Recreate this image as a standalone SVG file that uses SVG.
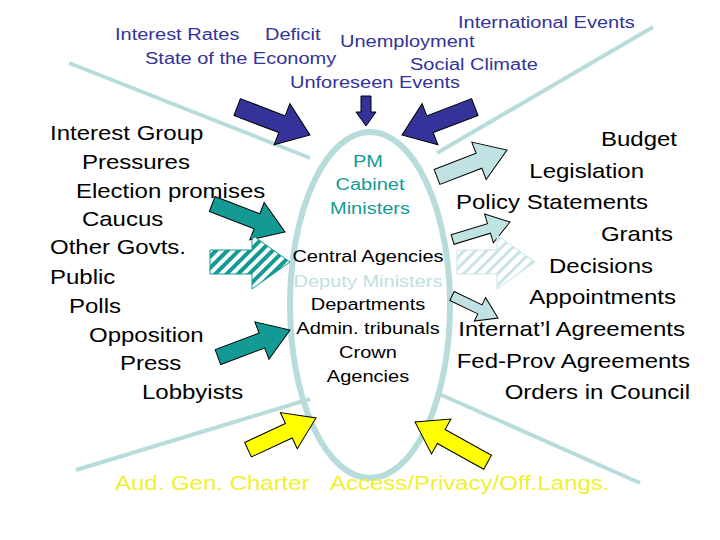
<svg xmlns="http://www.w3.org/2000/svg" width="720" height="540" viewBox="0 0 720 540">
<defs>
<style>
text{font-family:"Liberation Sans",Arial,sans-serif}
.l{font-size:20px;fill:#000}
.t{font-size:16px;fill:#333399}
.c{font-size:16px;text-anchor:middle}
.ray{stroke:#b8dcdc;stroke-width:4;fill:none}
.nv{fill:#333399;stroke:#000;stroke-width:1}
.tl{fill:#139a94;stroke:#000;stroke-width:1}
.lb{fill:#c0e2e2;stroke:#000;stroke-width:1}
.yl{fill:#ffff00;stroke:#000;stroke-width:1}
</style>
<pattern id="h1" width="8" height="8" patternUnits="userSpaceOnUse" patternTransform="rotate(45)"><rect width="8" height="8" fill="#fff"/><rect width="4" height="8" fill="#139a94"/></pattern>
<pattern id="h2" width="8" height="8" patternUnits="userSpaceOnUse" patternTransform="rotate(45)"><rect width="8" height="8" fill="#fff"/><rect width="3" height="8" fill="#c8e4e4"/></pattern>
</defs>
<rect width="720" height="540" fill="#fff"/>
<g id="rays">
<line class="ray" x1="69" y1="63" x2="310" y2="158"/>
<line class="ray" x1="653" y1="27" x2="437" y2="153"/>
<line class="ray" x1="76" y1="470" x2="310" y2="399"/>
<line class="ray" x1="437" y1="393" x2="640" y2="483"/>
</g>
<g id="center"><ellipse cx="370" cy="305" rx="80" ry="173" fill="none" stroke="#b8dcdc" stroke-width="6"/>
<g transform="scale(1.25,1)">
<text class="c" x="294.4" y="167" fill="#139a94">PM</text>
<text class="c" x="296" y="190" fill="#139a94">Cabinet</text>
<text class="c" x="296" y="214" fill="#139a94">Ministers</text>
<text class="c" x="294.4" y="262">Central Agencies</text>
<text class="c" x="294.4" y="287" fill="#c0e0e0">Deputy Ministers</text>
<text class="c" x="294.4" y="310">Departments</text>
<text class="c" x="294.4" y="334">Admin. tribunals</text>
<text class="c" x="294.4" y="358">Crown</text>
<text class="c" x="294.4" y="382">Agencies</text>
</g>
</g>
<g id="connectors">
<polygon class="nv" points="-78,-9 -30,-9 -30,-22 0,0 -30,22 -30,9 -78,9" transform="translate(310,135) rotate(21)"/>
<polygon class="nv" points="-30,-5 -14,-5 -14,-10 0,0 -14,10 -14,5 -30,5" transform="translate(366,126) rotate(90)"/>
<polygon class="nv" points="-78,-9 -30,-9 -30,-22 0,0 -30,22 -30,9 -78,9" transform="translate(402,135) rotate(159)"/>
<polygon class="tl" points="-78,-8 -30,-8 -30,-20 0,0 -30,20 -30,8 -78,8" transform="translate(285,232) rotate(21)"/>
<polygon fill="url(#h1)" stroke="#139a94" points="210,250 252,250 252,235 290,262 252,289 252,274 210,274"/>
<polygon class="tl" points="-77,-8 -30,-8 -30,-20 0,0 -30,20 -30,8 -77,8" transform="translate(290,330) rotate(-20.6)"/>
<polygon class="lb" points="-75,-8 -30,-8 -30,-20 0,0 -30,20 -30,8 -75,8" transform="translate(507,150) rotate(-21)"/>
<polygon class="lb" points="-60,-5 -22,-5 -22,-15 0,0 -22,15 -22,5 -60,5" transform="translate(510,222) rotate(-17)"/>
<polygon fill="url(#h2)" stroke="#c8e4e4" points="457,250 497,250 497,235 535,262 497,289 497,274 457,274"/>
<polygon class="lb" points="-51,-5 -20,-5 -20,-13 0,0 -20,13 -20,5 -51,5" transform="translate(498,318) rotate(25.6)"/>
<polygon class="yl" points="-75,-8 -30,-8 -30,-20 0,0 -30,20 -30,8 -75,8" transform="translate(316,418) rotate(-25)"/>
<polygon class="yl" points="-83,-8 -30,-8 -30,-20 0,0 -30,20 -30,8 -83,8" transform="translate(415,422) rotate(209)"/>
</g>
<g id="top" transform="scale(1.25,1)">
<text class="t" x="92" y="40">Interest Rates</text>
<text class="t" x="212" y="40">Deficit</text>
<text class="t" x="272" y="47">Unemployment</text>
<text class="t" x="366.4" y="28">International Events</text>
<text class="t" x="116" y="64">State of the Economy</text>
<text class="t" x="328" y="70">Social Climate</text>
<text class="t" x="232" y="88">Unforeseen Events</text>
</g>
<g id="left" transform="scale(1.2,1)">
<text class="l" x="41.7" y="140">Interest Group</text>
<text class="l" x="68.3" y="169">Pressures</text>
<text class="l" x="63.3" y="198">Election promises</text>
<text class="l" x="68.3" y="226">Caucus</text>
<text class="l" x="41.7" y="254">Other Govts.</text>
<text class="l" x="41.7" y="284">Public</text>
<text class="l" x="57.5" y="313">Polls</text>
<text class="l" x="74.2" y="342">Opposition</text>
<text class="l" x="100" y="370">Press</text>
<text class="l" x="118.3" y="399">Lobbyists</text>
</g>
<g id="right" text-anchor="end" transform="scale(1.2,1)">
<text class="l" x="564.2" y="146">Budget</text>
<text class="l" x="536.7" y="178">Legislation</text>
<text class="l" x="540" y="209">Policy Statements</text>
<text class="l" x="560.8" y="241">Grants</text>
<text class="l" x="544.2" y="273">Decisions</text>
<text class="l" x="563.3" y="304">Appointments</text>
<text class="l" x="570.8" y="336">Internat’l Agreements</text>
<text class="l" x="575" y="368">Fed-Prov Agreements</text>
<text class="l" x="575" y="399">Orders in Council</text>
</g>
<g id="bottom" transform="scale(1.2,1)">
<text class="l" x="95.8" y="490" style="fill:#f0f030">Aud. Gen. Charter</text>
<text class="l" x="275" y="490" style="fill:#f0f030">Access/Privacy/Off.Langs.</text>
</g>
</svg>
